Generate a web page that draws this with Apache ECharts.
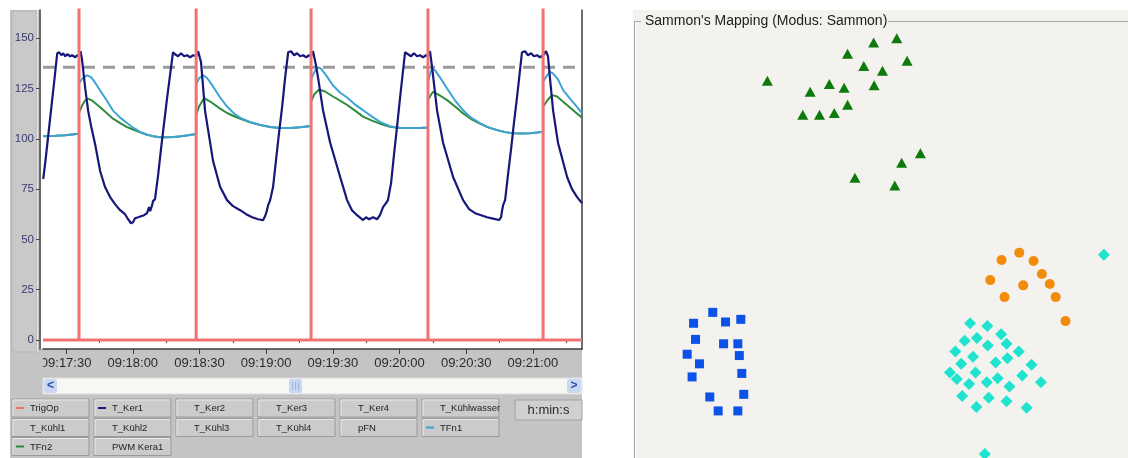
<!DOCTYPE html>
<html><head><meta charset="utf-8">
<script src="https://cdn.jsdelivr.net/npm/echarts@6/dist/echarts.min.js"></script>
<style>html,body{margin:0;padding:0;background:#fff;} #c{width:1128px;height:458px;}</style>
</head><body><div id="c"></div>
<script>
// ---------- time-series panel (x = seconds after 09:17:00) ----------
const yTickValues = [0, 25, 50, 75, 100, 125, 150];
const xLabelSecs = [30, 60, 90, 120, 150, 180, 210, 240];
const xMinorSecs = [45, 75, 105, 135, 165, 195, 225, 255];
const triggerTimes = [35.8, 88.5, 140.2, 192.8, 244.6];
const triggerHigh = 180;
const thresholdValue = 135.5;

const tKer1 = [
 [19.7,80],[20.6,88],[22.8,110],[24.6,128],[26.0,142.5],[26.9,143],[27.8,141.5],[28.7,142.5],[29.6,141],[30.5,142],[31.8,141],[32.7,141.5],[34.1,140.5],[35.0,141.5],[35.9,141],[36.5,143.5],[37.2,139],[38.6,125],[39.9,114],[41.3,106],[43.1,97],[45.3,84],[47.5,76],[49.8,71],[52.0,67.5],[54.3,64.5],[56.5,62.5],[57.9,60],[59.2,58],[60.1,58.5],[61.0,60.5],[62.4,61],[63.7,61.5],[65.1,62],[66.4,63],[67.3,66],[67.8,64],[68.7,67],[69.1,69],[70.0,70],[71.4,82],[72.7,95],[74.1,108],[75.4,120],[76.8,132],[78.1,143],[79.0,142],[80.4,141],[81.7,142.5],[83.1,141],[84.4,141.5],[85.8,140.5],[87.1,141.5],[88.5,141],[89.4,143.5],
 [89.8,143],[90.7,138],[92.5,114],[96.1,89],[99.3,76],[102.4,69.5],[105.1,66.5],[108.3,64.5],[111.0,62.5],[113.7,61],[116.4,60],[118.6,59.5],[119.5,61.5],[120.0,63],[120.9,67],[121.8,69.5],[123.1,76],[124.5,90],[125.8,103],[127.2,116],[128.5,130],[129.9,143],[131.2,143.5],[132.6,141.5],[133.9,142.5],[135.3,141],[136.6,141.5],[138.0,140.5],[139.3,141.5],[140.2,141],[141.1,143.5],
 [142.5,136],[143.4,130],[145.6,114],[148.8,98],[153.3,81],[156.4,69.5],[158.6,64.5],[160.9,62],[163.6,59.6],[164.9,61],[166.3,60],[168.1,61],[169.9,60],[171.2,62],[172.6,66],[173.9,68],[174.8,69.5],[176.2,78],[177.5,92],[178.9,106],[180.2,120],[181.6,134],[182.5,143],[183.8,142],[185.2,141],[186.5,142.5],[187.9,141],[189.2,141.5],[190.6,140.5],[191.9,141.5],[192.8,141],[193.7,143.5],
 [194.6,136],[196.9,114],[199.6,98],[204.1,81],[208.6,69.5],[211.3,65],[214.0,63],[216.7,62],[219.4,61],[222.1,60.3],[224.8,59.6],[225.7,61],[226.1,64],[226.6,67],[227.5,69.5],[228.8,82],[230.2,95],[231.5,108],[232.9,121],[234.2,134],[235.1,143],[236.5,143.5],[237.8,141.5],[239.2,142.5],[240.5,141],[241.9,141.5],[243.2,140.5],[244.6,141.5],[245.9,143.5],
 [246.8,141],[247.7,130],[249.1,114],[251.3,98],[255.4,81],[257.6,75],[259.9,71],[262.1,68]
];

const tfn1 = [
 [19.7,101.3],[25.1,101.5],[29.6,101.8],[35.8,102.5],
 [35.8,127.5],[37.2,129.8],[39.4,131.6],[41.3,130.5],[43.0,128],[45.3,124],[48.0,119.5],[51.1,114],[54.3,110.5],[57.4,107.8],[60.1,105.5],[63.3,103.4],[66.4,102],[69.1,101.3],[72.3,100.8],[75.4,100.7],[78.6,100.9],[81.7,101.2],[84.9,101.7],[88.5,102.4],
 [88.5,127],[89.8,130],[91.6,131.6],[93.4,130.2],[96.1,126],[99.3,120.5],[102.4,116],[105.6,112.5],[108.7,110.2],[112.8,108.3],[117.3,106.8],[121.8,105.8],[126.3,105.3],[130.8,105.4],[135.3,105.7],[140.2,106.4],
 [140.2,129],[141.1,132],[142.4,134.5],[143.4,135.5],[144.7,134.8],[147.0,131.5],[150.1,126.5],[153.2,123],[156.4,120.5],[160.0,117],[163.6,114.2],[167.6,111],[171.2,108.4],[175.7,106.2],[180.2,105.4],[184.7,105.3],[189.2,105.4],[192.8,105.6],
 [192.8,128.3],[193.7,132],[194.6,134.9],[196.0,134],[198.2,130.5],[201.4,125],[205.0,119],[208.6,114.2],[212.2,110.5],[216.2,107.8],[219.8,105.8],[223.9,104.3],[227.5,103.3],[231.1,102.7],[235.1,102.6],[238.7,102.7],[241.8,103.1],[244.6,103.5],
 [244.6,128.3],[246.4,131.5],[247.7,133.3],[249.0,132.5],[251.3,129.5],[253.6,124.2],[256.7,120],[259.0,117],[262.1,112.8]
];

const tfn2 = [
 [19.7,101.3],[25.1,101.5],[29.6,101.8],[35.8,102.5],
 [35.8,113],[37.2,116.5],[38.5,119],[39.9,120],[41.7,119],[45.3,115.7],[48.0,113],[51.1,110],[54.3,107.8],[57.4,105.8],[60.1,104.6],[63.3,103.2],[66.4,102],[69.1,101.3],[72.3,100.8],[75.4,100.7],[78.6,100.9],[81.7,101.2],[84.9,101.7],[88.5,102.4],
 [88.5,112],[89.8,116],[92.1,120.2],[94.8,118.5],[99.3,115],[102.4,112.8],[105.6,111.2],[108.7,109.8],[112.8,108.2],[117.3,106.8],[121.8,105.8],[126.3,105.3],[130.8,105.4],[135.3,105.7],[140.2,106.4],
 [140.2,118.5],[141.6,122],[143.8,124.5],[146.5,123.5],[150.1,121],[155.5,117.5],[160.0,114],[163.6,111],[167.6,109],[171.2,107.5],[175.7,106],[180.2,105.3],[184.7,105.3],[189.2,105.4],[192.8,105.6],
 [192.8,119.2],[194.2,122],[195.1,123.3],[198.2,121.5],[201.4,119.2],[205.0,116],[208.6,112.6],[212.2,109.8],[216.2,107.5],[219.8,105.7],[223.9,104.3],[227.5,103.3],[231.1,102.7],[235.1,102.6],[238.7,102.7],[241.8,103.1],[244.6,103.5],
 [244.6,115.9],[246.8,119.5],[248.6,121.7],[250.9,121],[253.6,118.4],[256.7,115.5],[259.0,113.3],[262.1,110.5]
];

const legendRow1 = ['TrigOp', 'T_Ker1', 'T_Ker2', 'T_Ker3', 'T_Ker4', 'T_Kühlwasser'];
const legendRow2 = ['T_Kühl1', 'T_Kühl2', 'T_Kühl3', 'T_Kühl4', 'pFN', 'TFn1'];
const legendRow3 = ['TFn2', 'PWM Kera1'];
const timeUnitLabel = 'h:min:s';

// ---------- Sammon's mapping panel ----------
const sammonTitle = "Sammon's Mapping (Modus: Sammon)";
const clusterTriangle = [[26.7,86.5],[43.0,92.7],[48.3,95.3],[53.0,96.3],[46.3,89.9],[50.1,88.8],[55.1,91.1],[48.4,85.5],[39.3,85.8],[42.3,84.9],[35.4,84.0],[43.0,81.0],[33.9,78.7],[37.3,78.7],[40.3,79.1],[57.8,69.9],[54.0,67.7],[44.5,64.3],[52.6,62.5]];
const clusterCircle = [[74.3,45.4],[77.9,47.1],[80.8,45.2],[72.0,40.8],[82.5,42.2],[84.1,39.9],[78.7,39.6],[74.9,36.9],[85.3,36.9],[87.3,31.4]];
const clusterDiamond = [[95.1,46.6],[67.9,30.9],[71.4,30.3],[74.2,28.4],[66.8,26.9],[69.3,27.5],[71.5,25.8],[75.3,26.2],[64.9,24.4],[77.8,24.4],[68.5,23.2],[75.5,22.9],[66.1,21.6],[73.1,21.9],[80.4,21.4],[63.8,19.6],[69.0,19.6],[78.5,18.9],[65.2,18.1],[67.7,17.0],[71.3,17.4],[73.5,18.3],[82.3,17.4],[75.9,16.4],[66.3,14.2],[71.7,13.8],[75.3,13.0],[69.2,11.7],[79.4,11.5],[70.9,0.9]];
const clusterSquare = [[15.6,33.4],[11.7,30.9],[18.2,31.2],[21.3,31.8],[12.1,27.2],[17.8,26.2],[20.7,26.2],[10.4,23.8],[21.0,23.5],[12.9,21.6],[11.4,18.6],[21.5,19.4],[15.0,14.0],[21.9,14.6],[16.7,10.8],[20.7,10.8]];

// ---------- styling ----------
const C = {
  trig: '#f07272', ker: '#17177a', tfn1: '#3ea2d4', tfn2: '#2f8c3c', thr: '#9a9a9a',
  panel: '#c4c4c4', tri: '#0d7a0d', circ: '#f28c0a', dia: '#1fe3cf', sq: '#0a52e8'
};
const FONT = '"Liberation Sans", Arial, sans-serif';
const X_MIN = 19.6, X_MAX = 262.1, Y_MIN = -4.5, Y_MAX = 164;

function fmtTime(s) {
  const total = 9 * 3600 + 17 * 60 + Math.round(s);
  const h = Math.floor(total / 3600), m = Math.floor(total % 3600 / 60), sec = total % 60;
  return [h, m, sec].map(v => String(v).padStart(2, '0')).join(':');
}

const trigData = [[X_MIN, 0]];
triggerTimes.forEach(t => { trigData.push([t, 0], [t, triggerHigh], [t, 0]); });
trigData.push([X_MAX, 0]);

// graphic: panel chrome
const G = [];
G.push({ type: 'rect', z: -10, shape: { x: 10, y: 10, width: 572, height: 448 }, style: { fill: C.panel } });
G.push({ type: 'rect', z: -9, shape: { x: 12, y: 11, width: 25, height: 341 }, style: { fill: '#c9c9c9', stroke: '#b4b4b4', lineWidth: 1 } });
G.push({ type: 'line', z: -9, shape: { x1: 37.5, y1: 10, x2: 37.5, y2: 352 }, style: { stroke: '#e6e6e6', lineWidth: 1 } });
G.push({ type: 'rect', z: -9, shape: { x: 41, y: 10, width: 541, height: 339 }, style: { fill: '#ffffff' } });
// scrollbar
G.push({ type: 'rect', z: 50, shape: { x: 43, y: 378, width: 539, height: 16 }, style: { fill: '#f7f7f3', stroke: '#dcdcdc', lineWidth: 1 } });
G.push({ type: 'rect', z: 51, shape: { x: 44, y: 379, width: 13, height: 14, r: 2 }, style: { fill: '#c8d7f2' } });
G.push({ type: 'text', z: 52, x: 50.5, y: 386, style: { text: '<', fill: '#2c4fa6', font: 'bold 12px ' + FONT, textAlign: 'center', textVerticalAlign: 'middle', align: 'center', verticalAlign: 'middle' } });
G.push({ type: 'rect', z: 51, shape: { x: 567, y: 379, width: 14, height: 14, r: 2 }, style: { fill: '#c8d7f2' } });
G.push({ type: 'text', z: 52, x: 574, y: 386, style: { text: '>', fill: '#2c4fa6', font: 'bold 12px ' + FONT, textAlign: 'center', textVerticalAlign: 'middle', align: 'center', verticalAlign: 'middle' } });
G.push({ type: 'rect', z: 51, shape: { x: 289, y: 379, width: 13, height: 14, r: 2 }, style: { fill: '#c8d7f2' } });
[292.5, 295.5, 298.5].forEach(x => G.push({ type: 'line', z: 52, shape: { x1: x, y1: 382, x2: x, y2: 390 }, style: { stroke: '#9fb4dc', lineWidth: 1 } }));
// clip the leading digit of the first time label
G.push({ type: 'rect', z: 60, shape: { x: 10, y: 353, width: 33, height: 24 }, style: { fill: C.panel } });

// legend buttons
const activeColor = { 'TrigOp': C.trig, 'T_Ker1': C.ker, 'TFn1': C.tfn1, 'TFn2': C.tfn2 };
const rowsY = [399, 418.5, 437.5];
[legendRow1, legendRow2, legendRow3].forEach((row, r) => {
  row.forEach((name, i) => {
    const x0 = 12 + i * 82, y0 = rowsY[r], w = 77, h = 18;
    G.push({ type: 'rect', z: 40, shape: { x: x0, y: y0, width: w, height: h }, style: { fill: '#cbcbcb', stroke: '#9b9b9b', lineWidth: 1 } });
    G.push({ type: 'polyline', z: 41, shape: { points: [[x0 + 1, y0 + h - 1], [x0 + 1, y0 + 1], [x0 + w - 1, y0 + 1]] }, style: { stroke: '#e9e9e9', fill: null, lineWidth: 1 } });
    if (activeColor[name]) {
      G.push({ type: 'line', z: 42, shape: { x1: x0 + 4, y1: y0 + 9, x2: x0 + 12, y2: y0 + 9 }, style: { stroke: activeColor[name], lineWidth: 2 } });
    }
    G.push({ type: 'text', z: 42, x: x0 + 18, y: y0 + 9.5, style: { text: name, fill: '#1e1e1e', font: '9.5px ' + FONT, textAlign: 'left', textVerticalAlign: 'middle', align: 'left', verticalAlign: 'middle' } });
  });
});
G.push({ type: 'rect', z: 40, shape: { x: 515, y: 400, width: 67, height: 20 }, style: { fill: '#d0d0d0', stroke: '#a2a2a2', lineWidth: 1 } });
G.push({ type: 'text', z: 42, x: 548.5, y: 410.5, style: { text: timeUnitLabel, fill: '#2a2a2a', font: '13px ' + FONT, textAlign: 'center', textVerticalAlign: 'middle', align: 'center', verticalAlign: 'middle' } });

// Sammon panel chrome
G.push({ type: 'rect', z: -10, shape: { x: 633, y: 10, width: 495, height: 448 }, style: { fill: '#f4f2ee' } });
G.push({ type: 'line', z: -9, shape: { x1: 634.5, y1: 21, x2: 634.5, y2: 458 }, style: { stroke: '#a8a8a8', lineWidth: 1 } });
G.push({ type: 'line', z: -9, shape: { x1: 635.5, y1: 22, x2: 635.5, y2: 458 }, style: { stroke: '#ffffff', lineWidth: 1 } });
G.push({ type: 'line', z: -9, shape: { x1: 634, y1: 21.5, x2: 641, y2: 21.5 }, style: { stroke: '#a8a8a8', lineWidth: 1 } });
G.push({ type: 'line', z: -9, shape: { x1: 888, y1: 21.5, x2: 1128, y2: 21.5 }, style: { stroke: '#a8a8a8', lineWidth: 1 } });
G.push({ type: 'text', z: 5, x: 645, y: 21, style: { text: sammonTitle, fill: '#202020', font: '14px ' + FONT, textAlign: 'left', textVerticalAlign: 'middle', align: 'left', verticalAlign: 'middle' } });

const chart = echarts.init(document.getElementById('c'), null, { renderer: 'canvas' });
chart.setOption({
  animation: false,
  backgroundColor: '#ffffff',
  textStyle: { fontFamily: FONT },
  graphic: G,
  grid: [
    { left: 43, top: 10, width: 539, height: 339, show: false },
    { left: 636, top: 22, right: 0, bottom: 0, show: false }
  ],
  xAxis: [
    { type: 'value', gridIndex: 0, position: 'bottom', min: X_MIN, max: X_MAX,
      axisLine: { show: true, onZero: false, lineStyle: { color: '#3c3c3c', width: 1.5 } },
      axisTick: { show: true, customValues: xLabelSecs, length: 5, lineStyle: { color: '#3c3c3c' } },
      axisLabel: { show: true, customValues: xLabelSecs, formatter: v => fmtTime(v), margin: 8, color: '#2a2a2a', fontSize: 13, fontFamily: FONT },
      splitLine: { show: false } },
    { type: 'value', gridIndex: 0, position: 'bottom', min: X_MIN, max: X_MAX,
      axisLine: { show: false }, axisLabel: { show: false }, splitLine: { show: false },
      axisTick: { show: true, customValues: xMinorSecs, length: 3, lineStyle: { color: '#3c3c3c' } } },
    { type: 'value', gridIndex: 1, min: 0, max: 100, show: false }
  ],
  yAxis: [
    { type: 'value', gridIndex: 0, position: 'left', offset: 3, min: Y_MIN, max: Y_MAX,
      axisLine: { show: true, onZero: false, lineStyle: { color: '#4a4a4a', width: 1.5 } },
      axisTick: { show: true, customValues: yTickValues, length: 4, lineStyle: { color: '#4a4a4a' } },
      axisLabel: { show: true, customValues: yTickValues, margin: 6, color: '#3a3a72', fontSize: 11.5, fontFamily: FONT },
      splitLine: { show: false } },
    { type: 'value', gridIndex: 0, position: 'right', min: Y_MIN, max: Y_MAX,
      axisLine: { show: true, onZero: false, lineStyle: { color: '#3c3c3c', width: 1.5 } },
      axisTick: { show: false }, axisLabel: { show: false }, splitLine: { show: false } },
    { type: 'value', gridIndex: 1, min: 0, max: 100, show: false }
  ],
  series: [
    { name: 'threshold', type: 'line', xAxisIndex: 0, yAxisIndex: 0, showSymbol: false, silent: true,
      data: [[X_MIN, thresholdValue], [X_MAX, thresholdValue]],
      lineStyle: { color: C.thr, width: 3, type: [12, 8] }, z: 2 },
    { name: 'TFn2', type: 'line', xAxisIndex: 0, yAxisIndex: 0, showSymbol: false, data: tfn2,
      lineStyle: { color: C.tfn2, width: 2 }, z: 3 },
    { name: 'TFn1', type: 'line', xAxisIndex: 0, yAxisIndex: 0, showSymbol: false, data: tfn1,
      lineStyle: { color: C.tfn1, width: 2 }, z: 3 },
    { name: 'T_Ker1', type: 'line', xAxisIndex: 0, yAxisIndex: 0, showSymbol: false, data: tKer1,
      lineStyle: { color: C.ker, width: 2.2 }, z: 4 },
    { name: 'TrigOp', type: 'line', xAxisIndex: 0, yAxisIndex: 0, showSymbol: false, data: trigData,
      lineStyle: { color: C.trig, width: 3 }, z: 5 },
    { name: 'cluster1', type: 'scatter', xAxisIndex: 2, yAxisIndex: 2, symbol: 'triangle', symbolSize: [11, 10],
      data: clusterTriangle, itemStyle: { color: C.tri, opacity: 1 } },
    { name: 'cluster2', type: 'scatter', xAxisIndex: 2, yAxisIndex: 2, symbol: 'circle', symbolSize: 10,
      data: clusterCircle, itemStyle: { color: C.circ, opacity: 1 } },
    { name: 'cluster3', type: 'scatter', xAxisIndex: 2, yAxisIndex: 2, symbol: 'diamond', symbolSize: 12,
      data: clusterDiamond, itemStyle: { color: C.dia, opacity: 1 } },
    { name: 'cluster4', type: 'scatter', xAxisIndex: 2, yAxisIndex: 2, symbol: 'rect', symbolSize: 9,
      data: clusterSquare, itemStyle: { color: C.sq, opacity: 1 } }
  ]
});
</script></body></html>
